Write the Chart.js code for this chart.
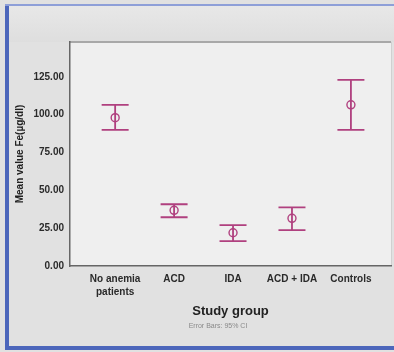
<!DOCTYPE html>
<html>
<head>
<meta charset="utf-8">
<script src="https://cdn.jsdelivr.net/npm/chart.js@4"></script>
<style>
  body { margin: 0; background: #e4e4e4; }
  .wrap { position: relative; width: 394px; height: 352px; background: #e1e1e1; overflow: hidden; }
  .top-band { position: absolute; left: 9px; top: 5px; right: 0; height: 37px; background: linear-gradient(#e8e8e8, #dedede); }
  .edge-left { position: absolute; left: 5px; top: 4px; width: 4px; height: 346px; background: #4c66bb; }
  .edge-top { position: absolute; left: 5px; top: 4px; right: 0; height: 2px; background: #8e9fd8; }
  .edge-bottom { position: absolute; left: 5px; top: 346px; right: 0; height: 4px; background: #4c66bb; }
  canvas { position: absolute; left: 0; top: 0; }
  .note { position: absolute; left: 0; width: 436px; top: 322px; text-align: center;
          font: 7px "Liberation Sans", Arial, sans-serif; color: #8a8a8a; }
</style>
</head>
<body>
<div class="wrap">
  <div class="top-band"></div>
  <canvas id="chart" width="394" height="352"></canvas>
  <div class="edge-left"></div>
  <div class="edge-top"></div>
  <div class="edge-bottom"></div>
  <div class="note">Error Bars: 95% CI</div>
</div>
<script>
const groups = [['No anemia', 'patients'], 'ACD', 'IDA', 'ACD + IDA', 'Controls'];
const means = [98, 36.8, 22, 31.5, 106.5];
const ciLow = [90, 32.2, 16.4, 23.7, 90];
const ciHigh = [106.5, 40.8, 27, 38.8, 123];
const yTicks = [0, 25, 50, 75, 100, 125];

const barColor = '#b0407f';

// whisker + caps + open circle per group (line runs through the circle)
const errorBars = {
  id: 'errorBars',
  afterDatasetsDraw(chart) {
    const { ctx, scales: { x, y } } = chart;
    ctx.save();
    ctx.strokeStyle = barColor;
    ctx.lineWidth = 1.8;
    means.forEach((m, i) => {
      const px = x.getPixelForValue(i + 1);
      const top = y.getPixelForValue(ciHigh[i]);
      const bot = y.getPixelForValue(ciLow[i]);
      const mid = y.getPixelForValue(m);
      ctx.beginPath();
      ctx.moveTo(px, top); ctx.lineTo(px, bot);
      ctx.moveTo(px - 13.5, top); ctx.lineTo(px + 13.5, top);
      ctx.moveTo(px - 13.5, bot); ctx.lineTo(px + 13.5, bot);
      ctx.stroke();
      ctx.beginPath();
      ctx.lineWidth = 1.4;
      ctx.arc(px, mid, 4, 0, Math.PI * 2);
      ctx.stroke();
      ctx.lineWidth = 1.8;
    });
    ctx.restore();
  }
};

const plotBg = {
  id: 'plotBg',
  beforeDraw(chart) {
    const { ctx, chartArea: a } = chart;
    ctx.save();
    ctx.fillStyle = '#efefef';
    ctx.fillRect(a.left, a.top, a.right - a.left, a.bottom - a.top);
    ctx.strokeStyle = '#a8a8a8';
    ctx.lineWidth = 2;
    ctx.beginPath();
    ctx.moveTo(a.left, a.top); ctx.lineTo(a.right, a.top);
    ctx.stroke();
    ctx.strokeStyle = '#d0d0d0';
    ctx.lineWidth = 1;
    ctx.beginPath();
    ctx.moveTo(a.right + 0.5, a.top); ctx.lineTo(a.right + 0.5, a.bottom);
    ctx.stroke();
    ctx.restore();
  }
};

new Chart(document.getElementById('chart'), {
  type: 'scatter',
  data: {
    datasets: [{
      data: means.map((m, i) => ({ x: i + 1, y: m })),
      pointRadius: 0,
      pointHoverRadius: 0
    }]
  },
  options: {
    responsive: false,
    animation: false,
    layout: { padding: { left: 0, right: 3, top: 42, bottom: 0 } },
    plugins: { legend: { display: false }, tooltip: { enabled: false } },
    scales: {
      x: {
        type: 'linear',
        min: 0.234,
        max: 5.68,
        afterBuildTicks: s => { s.ticks = groups.map((g, i) => ({ value: i + 1 })); },
        afterFit: s => { s.height = 86; },
        grid: { display: false, drawTicks: true, tickLength: 5, tickColor: '#777' },
        border: { color: '#666', width: 1.5 },
        ticks: {
          autoSkip: false,
          maxRotation: 0,
          padding: 2,
          color: '#2a2a2a',
          font: { family: 'Liberation Sans', size: 10, weight: 'bold', lineHeight: 1.3 },
          callback: (v, i) => groups[i]
        },
        title: {
          display: true,
          text: 'Study group',
          color: '#222',
          font: { family: 'Liberation Sans', size: 13, weight: 'bold' },
          padding: { top: 0, bottom: 33 }
        }
      },
      y: {
        min: 0,
        max: 148,
        afterBuildTicks: s => { s.ticks = yTicks.map(v => ({ value: v })); },
        afterFit: s => { s.width = 70; },
        grid: { display: false, drawTicks: true, tickLength: 5, tickColor: '#777' },
        border: { color: '#666', width: 1.5 },
        ticks: {
          padding: 1,
          color: '#2a2a2a',
          font: { family: 'Liberation Sans', size: 10, weight: 'bold' },
          callback: v => v.toFixed(2)
        },
        title: {
          display: true,
          text: 'Mean value Fe(µg/dl)',
          color: '#222',
          font: { family: 'Liberation Sans', size: 10, weight: 'bold' },
          padding: { top: 14, bottom: 0 }
        }
      }
    }
  },
  plugins: [plotBg, errorBars]
});
</script>
</body>
</html>
